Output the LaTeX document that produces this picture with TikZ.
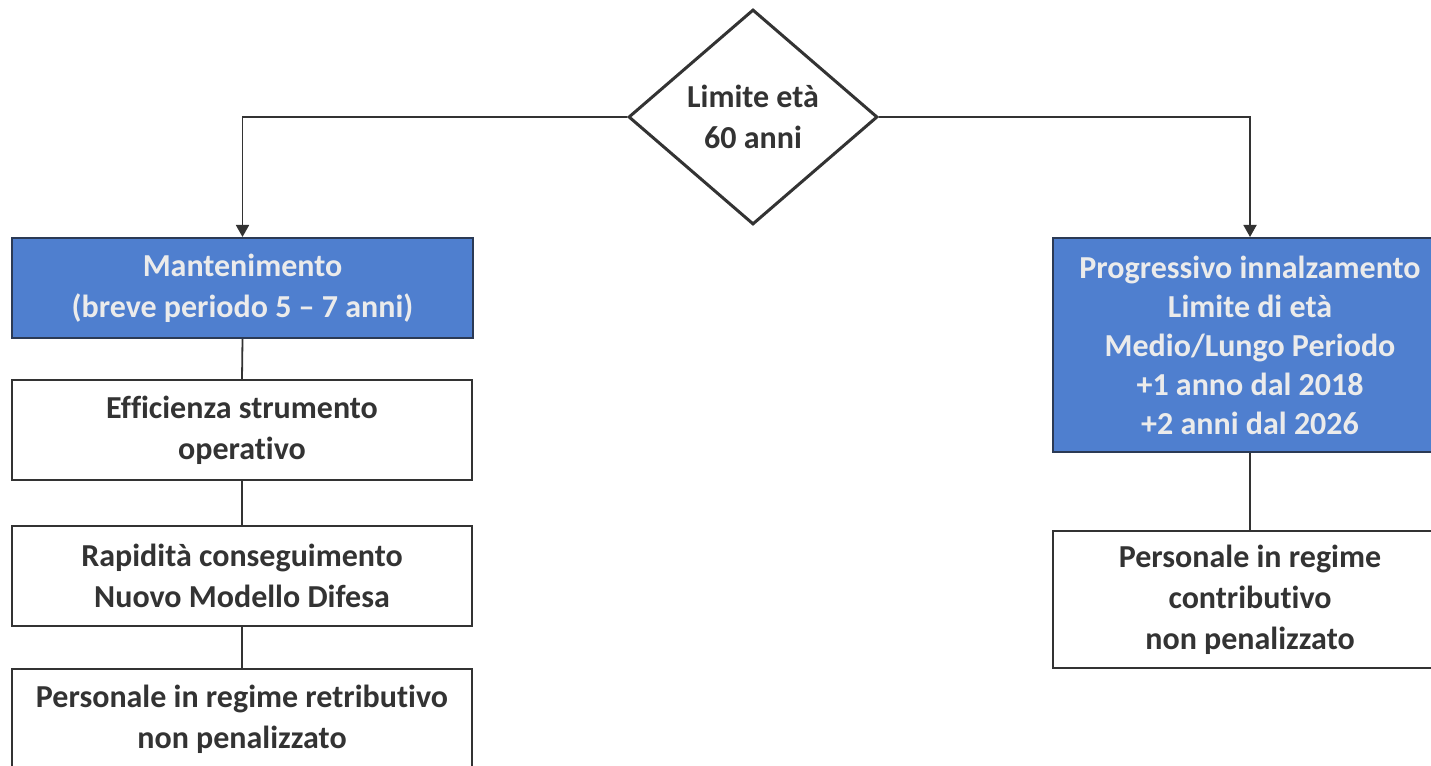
\documentclass[tikz,border=0pt]{standalone}
\usepackage{fontspec}
\setmainfont{Carlito}[Ligatures={TeX,NoCommon}]
\usetikzlibrary{shapes.geometric,arrows.meta}
\definecolor{boxblue}{HTML}{4F7FCF}
\definecolor{boxedge}{HTML}{2B3A55}
\definecolor{inkgrey}{HTML}{333333}
\tikzset{every node/.style={font=\bfseries\fontsize{32}{41}\selectfont,align=center},
  bluebox/.style={draw=boxedge,fill=boxblue,text=white!92!black,line width=2pt,inner sep=0pt},
  whitebox/.style={draw=inkgrey,fill=white,text=inkgrey,line width=1.8pt,inner sep=0pt},
  decision/.style={diamond,draw=inkgrey,fill=white,line width=3pt,text=inkgrey,
    minimum width=249pt,minimum height=215pt,inner sep=0pt},
  link/.style={draw=inkgrey,line width=1.8pt}}

\begin{document}
\begin{tikzpicture}[x=1pt,y=1pt]
  \path[use as bounding box] (0,0) rectangle (1431,765);
  \node[decision] (limit) at (753,648) {Limite età\\60 anni};
  % left branch
  \node[bluebox,minimum width=461pt,minimum height=100pt] (mant) at (242.5,477)
    {Mantenimento\\(breve periodo 5 -- 7 anni)};
  \node[whitebox,minimum width=460pt,minimum height=100pt] (eff) at (242,335)
    {Efficienza strumento\\operativo};
  \node[whitebox,minimum width=460pt,minimum height=100pt] (rap) at (242,189)
    {Rapidità conseguimento\\Nuovo Modello Difesa};
  \node[whitebox,minimum width=460pt,minimum height=100pt] (retr) at (242,46)
    {Personale in regime retributivo\\non penalizzato};
  % right branch
  \node[bluebox,minimum width=394pt,minimum height=214pt,font=\bfseries\fontsize{32}{39}\selectfont]
    (prog) at (1250,420)
    {Progressivo innalzamento\\Limite di età\\Medio/Lungo Periodo\\+1 anno dal 2018\\+2 anni dal 2026};
  \node[whitebox,minimum width=394pt,minimum height=137pt] (contr) at (1250,165.5)
    {Personale in regime\\contributivo\\non penalizzato};
  % connectors
  \draw[link,-{Triangle[width=13pt,length=12pt]}] (limit.west) -| (mant.north);
  \draw[link,-{Triangle[width=13pt,length=12pt]}] (limit.east) -| (prog.north);
  \draw[link] (mant.south) -- (eff.north);
  \draw[link] (eff.south) -- (rap.north);
  \draw[link] (rap.south) -- (retr.north);
  \draw[link] (prog.south) -- (contr.north);
\end{tikzpicture}
\end{document}
